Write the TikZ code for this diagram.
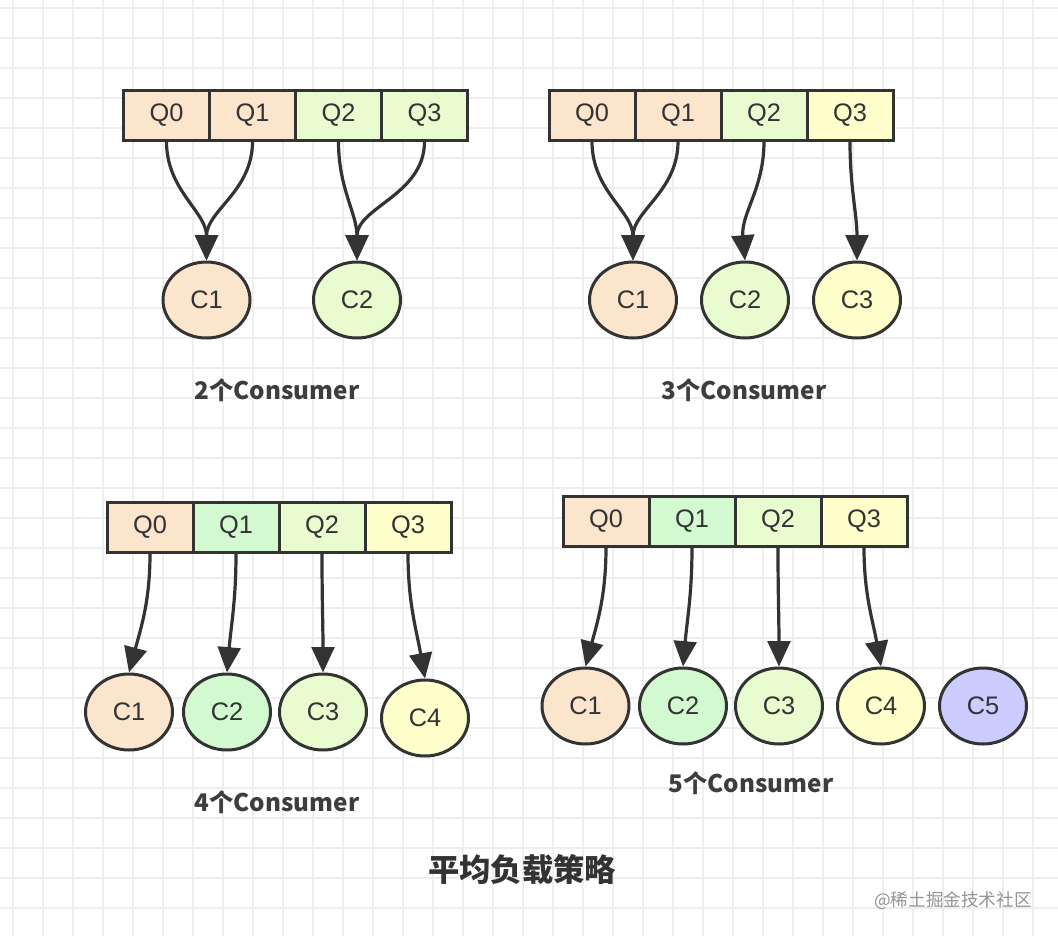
\documentclass[tikz,border=0pt]{standalone}
\usepackage{fontspec}
\setmainfont{Liberation Sans}
\newfontfamily\cjk{Noto Sans CJK SC}
\usetikzlibrary{shapes.geometric,arrows.meta}
\newdimen\pxu \pxu=0.75pt
\definecolor{dk}{HTML}{333333}
\definecolor{peach}{HTML}{FCE5CD}
\definecolor{lgreen}{HTML}{E8FCD0}
\definecolor{mgreen}{HTML}{D2F9CF}
\definecolor{lyellow}{HTML}{FFFFCC}
\definecolor{lblue}{HTML}{CCCCFF}
\definecolor{gridc}{HTML}{EEEEEE}
\begin{document}
\begin{tikzpicture}[x=0.75pt,y=-0.75pt,
  qcell/.style={draw=dk, line width=3\pxu, minimum width=86\pxu, minimum height=50\pxu, inner sep=0pt, font=\fontsize{19}{19}\selectfont, text=dk},
  cons/.style={ellipse, draw=dk, line width=3\pxu, minimum width=87\pxu, minimum height=76\pxu, inner sep=0pt, font=\fontsize{19}{19}\selectfont, text=dk},
  arr/.style={draw=dk, line width=3.2\pxu, -{Triangle[length=19pt,width=17pt]}},
  lab/.style={font=\cjk\bfseries\fontsize{18.2}{18.2}\selectfont, text=dk!95, inner sep=0pt},
  ttl/.style={font=\cjk\bfseries\fontsize{23.5}{23.5}\selectfont, text=dk, inner sep=0pt},
  wm/.style={font=\cjk\fontsize{13.2}{13.2}\selectfont, text=black!42, inner sep=0pt}]
\useasboundingbox (0,0) rectangle (1058,936);
\fill[white] (0,0) rectangle (1058,936);
\foreach \x in {13,43,...,1058} \draw[gridc, line width=1.5\pxu] (\x,0) -- (\x,936);
\foreach \y in {8,38,...,936} \draw[gridc, line width=1.5\pxu] (0,\y) -- (1058,\y);

% ---- group 1: 2 consumers
\node[qcell, fill=peach] (a0) at (166.5,115) {Q0};
\node[qcell, fill=peach] (a1) at (252.5,115) {Q1};
\node[qcell, fill=lgreen] (a2) at (338.5,115) {Q2};
\node[qcell, fill=lgreen] (a3) at (424.5,115) {Q3};
\node[cons, fill=peach] (ac1) at (206.5,300) {C1};
\node[cons, fill=lgreen] (ac2) at (357,300) {C2};
\draw[arr] (a0.south) to[out=-90,in=90] (ac1.north);
\draw[arr] (a1.south) to[out=-90,in=90] (ac1.north);
\draw[arr] (a2.south) to[out=-90,in=90] (ac2.north);
\draw[arr] (a3.south) to[out=-90,in=90] (ac2.north);
\node[lab] (al) at (277,390) {2个Consumer};

% ---- group 2: 3 consumers
\node[qcell, fill=peach] (b0) at (592,115) {Q0};
\node[qcell, fill=peach] (b1) at (678,115) {Q1};
\node[qcell, fill=lgreen] (b2) at (764,115) {Q2};
\node[qcell, fill=lyellow] (b3) at (850,115) {Q3};
\node[cons, fill=peach] (bc1) at (633,300) {C1};
\node[cons, fill=lgreen] (bc2) at (745,300) {C2};
\node[cons, fill=lyellow] (bc3) at (857,300) {C3};
\draw[arr] (b0.south) to[out=-90,in=90] (bc1.north);
\draw[arr] (b1.south) to[out=-90,in=90] (bc1.north);
\draw[arr] (b2.south) to[out=-90,in=95] (bc2.north);
\draw[arr] (b3.south) to[out=-90,in=90] (bc3.north);
\node[lab] (bl) at (744,390) {3个Consumer};

% ---- group 3: 4 consumers
\node[qcell, fill=peach] (c0) at (150,527) {Q0};
\node[qcell, fill=mgreen] (c1) at (236,527) {Q1};
\node[qcell, fill=lgreen] (c2) at (322,527) {Q2};
\node[qcell, fill=lyellow] (c3) at (408,527) {Q3};
\node[cons, fill=peach] (cc1) at (129,712) {C1};
\node[cons, fill=mgreen] (cc2) at (227,712) {C2};
\node[cons, fill=lgreen] (cc3) at (323,712) {C3};
\node[cons, fill=lyellow] (cc4) at (425,718) {C4};
\draw[arr] (c0.south) to[out=-90,in=75] (cc1.north);
\draw[arr] (c1.south) to[out=-90,in=85] (cc2.north);
\draw[arr] (c2.south) to[out=-90,in=90] (cc3.north);
\draw[arr] (c3.south) to[out=-90,in=100] (cc4.north);
\node[lab] (cl) at (277,802) {4个Consumer};

% ---- group 4: 5 consumers
\node[qcell, fill=peach] (d0) at (606,521) {Q0};
\node[qcell, fill=mgreen] (d1) at (692,521) {Q1};
\node[qcell, fill=lgreen] (d2) at (778,521) {Q2};
\node[qcell, fill=lyellow] (d3) at (864,521) {Q3};
\node[cons, fill=peach] (dc1) at (585.5,706) {C1};
\node[cons, fill=mgreen] (dc2) at (683,706) {C2};
\node[cons, fill=lgreen] (dc3) at (779,706) {C3};
\node[cons, fill=lyellow] (dc4) at (881,706) {C4};
\node[cons, fill=lblue] (dc5) at (983,706) {C5};
\draw[arr] (d0.south) to[out=-90,in=75] (dc1.north);
\draw[arr] (d1.south) to[out=-90,in=85] (dc2.north);
\draw[arr] (d2.south) to[out=-90,in=90] (dc3.north);
\draw[arr] (d3.south) to[out=-90,in=100] (dc4.north);
\node[lab] (dl) at (751,783) {5个Consumer};

\node[ttl] (title) at (522,870) {平均负载策略};
\node[wm, anchor=east] (wmk) at (1032,901) {@稀土掘金技术社区};
\end{tikzpicture}
\end{document}
